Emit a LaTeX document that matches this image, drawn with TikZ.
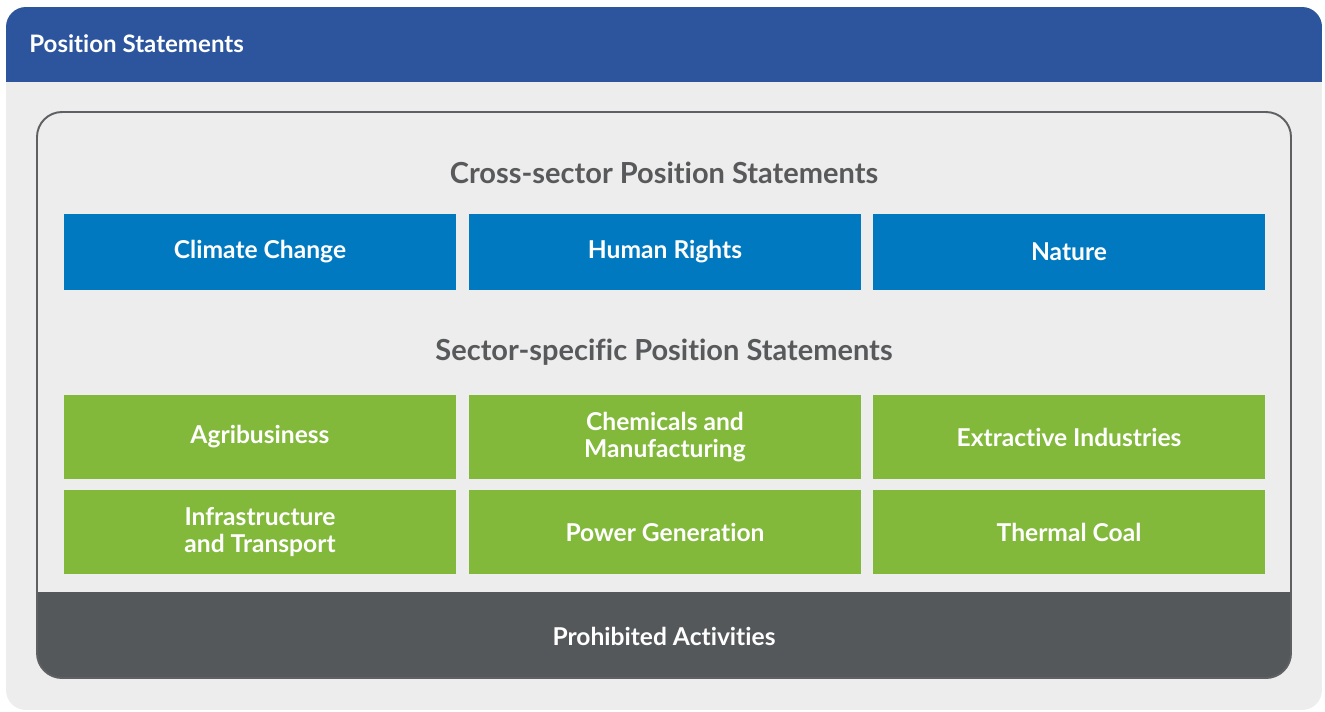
\documentclass[tikz,border=0pt]{standalone}
\usepackage{fontspec}
\setmainfont{Lato}[Ligatures=NoCommon]
\usetikzlibrary{positioning}
\definecolor{headblue}{HTML}{2C559E}
\definecolor{panel}{HTML}{EDEDED}
\definecolor{frameline}{HTML}{5E6063}
\definecolor{darkband}{HTML}{54585B}
\definecolor{crossblue}{HTML}{0079C1}
\definecolor{sectgreen}{HTML}{82B93B}
\definecolor{headgrey}{HTML}{58595B}
\begin{document}
\begin{tikzpicture}[x=0.02cm,y=-0.02cm,
 cross/.style={fill=crossblue,minimum width=7.84cm,minimum height=1.52cm,inner sep=0pt,text=white,font=\bfseries\fontsize{14}{15.5}\selectfont,align=center},
 sector/.style={cross,fill=sectgreen,minimum height=1.68cm},
 heading/.style={text=headgrey,font=\bfseries\fontsize{16.5}{19}\selectfont}]
 \useasboundingbox (0,0) rectangle (1325,711);
 % outer panel with header band
 \begin{scope}
  \clip[rounded corners=0.4cm] (6,7) rectangle (1322,710);
  \fill[panel] (6,7) rectangle (1322,710);
  \fill[headblue] (6,7) rectangle (1322,82);
 \end{scope}
 \node[anchor=west,inner sep=0pt,text=white,font=\bfseries\fontsize{13.7}{16}\selectfont] (title) at (29,44) {Position Statements};
 % inner frame, dark band at the bottom
 \begin{scope}
  \clip[rounded corners=0.5cm] (37,112) rectangle (1291,678);
  \fill[darkband] (37,592) rectangle (1291,678);
 \end{scope}
 \draw[frameline,line width=1.1pt,rounded corners=0.5cm] (37,112) rectangle (1291,678);
 \node[heading] (xhead) at (664,173) {Cross-sector Position Statements};
 \node[cross] (climate) at (260,252) {Climate Change};
 \node[cross] (rights) at (665,252) {Human Rights};
 \node[cross] (nature) at (1069,252) {Nature};
 \node[heading] (shead) at (664,352) {Sector-specific Position Statements};
 \node[sector] (agri) at (260,437) {Agribusiness};
 \node[sector] (chem) at (665,437) {Chemicals and\\Manufacturing};
 \node[sector] (extract) at (1069,437) {Extractive Industries};
 \node[sector] (infra) at (260,532) {Infrastructure\\and Transport};
 \node[sector] (power) at (665,532) {Power Generation};
 \node[sector] (coal) at (1069,532) {Thermal Coal};
 \node[text=white,font=\bfseries\fontsize{14}{16}\selectfont] (prohib) at (664,636) {Prohibited Activities};
\end{tikzpicture}
\end{document}
